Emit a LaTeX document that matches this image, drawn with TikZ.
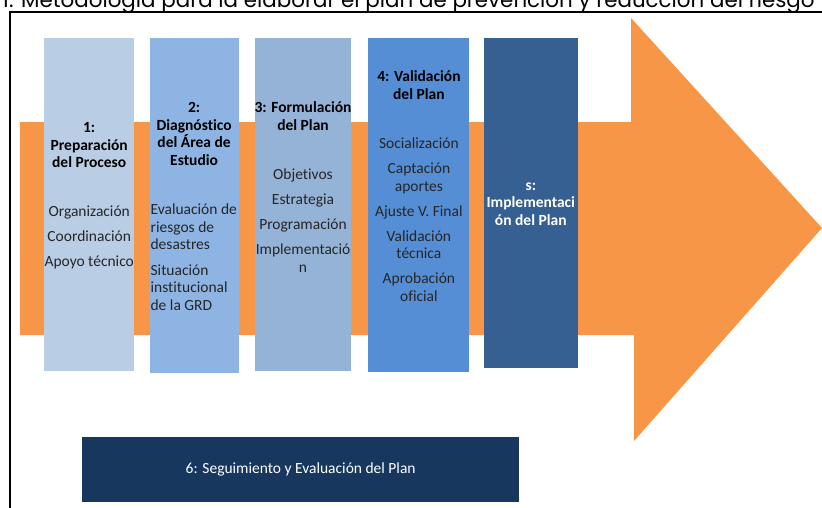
\documentclass[tikz,border=0pt]{standalone}
\usepackage{fontspec}
\setmainfont[Ligatures=NoCommon]{Carlito}
\newfontfamily\titlefont{Poppins}
\usepackage{tikz}
\usetikzlibrary{positioning}
\definecolor{arrowfill}{HTML}{F79646}
\definecolor{stageone}{HTML}{B9CDE5}
\definecolor{stagetwo}{HTML}{8EB4E3}
\definecolor{stagethree}{HTML}{95B3D7}
\definecolor{stagefour}{HTML}{558ED5}
\definecolor{stagefive}{HTML}{376092}
\definecolor{stagesix}{HTML}{17375E}
\definecolor{itemtext}{HTML}{262626}

\begin{document}
\begin{tikzpicture}[x=1pt, y=-1pt,
  stage/.style={inner sep=0pt, anchor=north west},
  head/.style={align=center, inner sep=0pt, anchor=north, font=\fontsize{15.5}{17.5}\selectfont\bfseries},
  items/.style={align=center, inner sep=0pt, anchor=north, text=itemtext, font=\fontsize{15.5}{17.5}\selectfont}
]
  \useasboundingbox (0,0) rectangle (822,507);

  % title, cut by the page edge
  \node[anchor=base west, inner sep=0pt, font=\titlefont\fontsize{21.4}{22}\selectfont] (title) at (2,7)
    {1. Metodología para la elaborar el plan de prevención y reducción del riesgo};
  \draw[line width=2pt] (10,508) -- (10,12) -- (823,12);

  % big arrow behind the stages
  \fill[arrowfill] (20,122) -- (631,122) -- (631,18) -- (822,228) -- (634,441) -- (634,335) -- (20,335) -- cycle;

  \node[stage, fill=stageone, minimum width=90pt, minimum height=333pt] (prep) at (44,38) {};
  \node[stage, fill=stagetwo, minimum width=89pt, minimum height=335pt, right=15pt of prep.north east, anchor=north west] (diag) {};
  \node[stage, fill=stagethree, minimum width=96pt, minimum height=333pt, right=16pt of diag.north east, anchor=north west] (form) {};
  \node[stage, fill=stagefour, minimum width=101pt, minimum height=334pt, right=17pt of form.north east, anchor=north west] (valid) {};
  \node[stage, fill=stagefive, minimum width=94pt, minimum height=330pt, right=14pt of valid.north east, anchor=north west] (impl) {};
  \node[stage, fill=stagesix, minimum width=437pt, minimum height=65pt, text=white,
        font=\fontsize{15.5}{17}\selectfont] (follow) at (82,437) {6: Seguimiento y Evaluación del Plan};

  % stage titles
  \node[head, below=82.5pt of prep.north] (prephead) {\strut 1:\\Preparación\\del Proceso};
  \node[head, below=62.5pt of diag.north] (diaghead) {\strut 2:\\Diagnóstico\\del Área de\\Estudio};
  \node[head, below=62.5pt of form.north] (formhead) {\strut 3: Formulación\\del Plan};
  \node[head, below=31.5pt of valid.north] (validhead) {\strut 4: Validación\\del Plan};
  \node[head, text=white, below=140pt of impl.north] (implhead) {\strut s:\\Implementaci\\ón del Plan};

  % stage contents
  \node[items, below=166.5pt of prep.north] (prepitems)
    {\strut Organización\\[7.5pt]Coordinación\\[7.5pt]Apoyo técnico};
  \node[items, align=left, below=164.5pt of diag.north west, anchor=north west, xshift=1pt] (diagitems)
    {\strut Evaluación de\\riesgos de\\desastres\\[8pt]Situación\\institucional\\de la GRD};
  \node[items, below=129.5pt of form.north] (formitems)
    {\strut Objetivos\\[7.5pt]Estrategia\\[7.5pt]Programación\\[7.5pt]Implementació\\n};
  \node[items, below=98.5pt of valid.north] (validitems)
    {\strut Socialización\\[7.5pt]Captación\\aportes\\[7.5pt]Ajuste V. Final\\[7.5pt]Validación\\técnica\\[7.5pt]Aprobación\\oficial};
\end{tikzpicture}
\end{document}
